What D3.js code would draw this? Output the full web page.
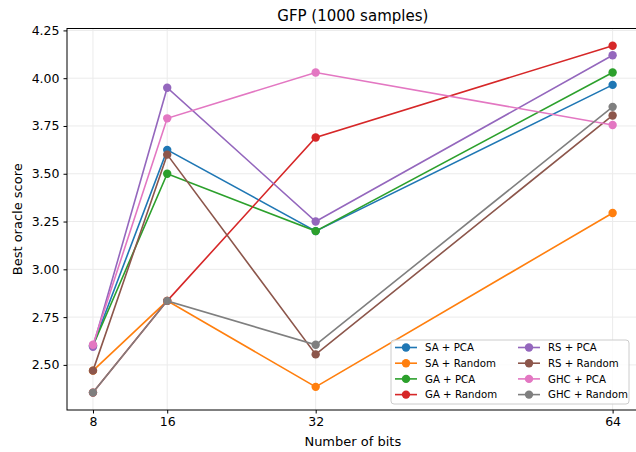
<!DOCTYPE html>
<html>
<head>
<meta charset="utf-8">
<script src="https://cdn.jsdelivr.net/npm/d3@7"></script>
<style>
  body { margin: 0; background: #fff; }
  svg { font-family: "DejaVu Sans", sans-serif; }
</style>
</head>
<body>
<div id="chart"></div>
<script>
const BITS = [8, 16, 32, 64];
const SERIES_NAMES = ["SA + PCA", "SA + Random", "GA + PCA", "GA + Random",
                      "RS + PCA", "RS + Random", "GHC + PCA", "GHC + Random"];
const SA_PCA = [2.60, 3.625, 3.20, 3.965];
const SA_RANDOM = [2.47, 2.835, 2.385, 3.295];
const GA_PCA = [2.60, 3.50, 3.20, 4.03];
const GA_RANDOM = [2.355, 2.835, 3.69, 4.17];
const RS_PCA = [2.595, 3.95, 3.25, 4.12];
const RS_RANDOM = [2.47, 3.60, 2.555, 3.805];
const GHC_PCA = [2.605, 3.79, 4.03, 3.755];
const GHC_RANDOM = [2.355, 2.835, 2.605, 3.85];
const Y_TICKS = [2.50, 2.75, 3.00, 3.25, 3.50, 3.75, 4.00, 4.25];
const COLORS = ["#1f77b4", "#ff7f0e", "#2ca02c", "#d62728",
                "#9467bd", "#8c564b", "#e377c2", "#7f7f7f"];

const ALL = [SA_PCA, SA_RANDOM, GA_PCA, GA_RANDOM, RS_PCA, RS_RANDOM, GHC_PCA, GHC_RANDOM];
const series = SERIES_NAMES.map((name, i) => ({
    name: name,
    color: COLORS[i],
    values: BITS.map((b, j) => [b, ALL[i][j]])
}));

const WIDTH = 636;
const HEIGHT = 452;
const LEFT = 67;
const RIGHT = 638.6;
const TOP = 28.5;
const BOTTOM = 410;

const xScale = d3.scaleLinear().domain([5.2, 66.8]).range([LEFT, RIGHT]);
const yScale = d3.scaleLinear().domain([2.264, 4.26]).range([BOTTOM, TOP]);

const svg = d3.select('#chart').append('svg')
    .attr('width', WIDTH)
    .attr('height', HEIGHT);

// grid
svg.append('g').selectAll('line')
   .data(BITS).enter().append('line')
   .attr('x1', d => xScale(d)).attr('x2', d => xScale(d))
   .attr('y1', TOP).attr('y2', BOTTOM)
   .attr('stroke', '#ebebeb').attr('stroke-width', 1);
svg.append('g').selectAll('line')
   .data(Y_TICKS).enter().append('line')
   .attr('x1', LEFT).attr('x2', RIGHT)
   .attr('y1', d => yScale(d)).attr('y2', d => yScale(d))
   .attr('stroke', '#ebebeb').attr('stroke-width', 1);

// axes
const xAxis = d3.axisBottom(xScale).tickValues(BITS).tickFormat(d3.format('d'))
    .tickSizeInner(3.5).tickSizeOuter(0).tickPadding(4);
const yAxis = d3.axisLeft(yScale).tickValues(Y_TICKS).tickFormat(d3.format('.2f'))
    .tickSizeInner(3.5).tickSizeOuter(0).tickPadding(4);

const gx = svg.append('g')
   .attr('transform', 'translate(0,' + BOTTOM + ')')
   .call(xAxis);
const gy = svg.append('g')
   .attr('transform', 'translate(' + LEFT + ',0)')
   .call(yAxis);
[gx, gy].forEach(g => {
    g.select('.domain').remove();
    g.selectAll('text').attr('font-size', '12.5px').attr('fill', '#000')
     .attr('font-family', '"DejaVu Sans", sans-serif');
    g.selectAll('line').attr('stroke', '#000');
});

// frame
svg.append('rect')
   .attr('x', LEFT).attr('y', TOP)
   .attr('width', RIGHT - LEFT).attr('height', BOTTOM - TOP)
   .attr('fill', 'none').attr('stroke', '#000').attr('stroke-width', 1);

// lines
const line = d3.line().x(d => xScale(d[0])).y(d => yScale(d[1]));
series.forEach(s => {
    const g = svg.append('g');
    g.append('path')
     .datum(s.values)
     .attr('d', line)
     .attr('fill', 'none')
     .attr('stroke', s.color)
     .attr('stroke-width', 1.6);
    g.selectAll('circle')
     .data(s.values).enter().append('circle')
     .attr('cx', d => xScale(d[0]))
     .attr('cy', d => yScale(d[1]))
     .attr('r', 4.2)
     .attr('fill', s.color);
});

// title and labels
svg.append('text')
   .attr('x', (LEFT + RIGHT) / 2).attr('y', 21)
   .attr('text-anchor', 'middle')
   .attr('font-size', '15px')
   .text('GFP (1000 samples)');
svg.append('text')
   .attr('x', (LEFT + RIGHT) / 2).attr('y', 446)
   .attr('text-anchor', 'middle')
   .attr('font-size', '13px')
   .text('Number of bits');
svg.append('text')
   .attr('transform', 'translate(22,' + (TOP + BOTTOM) / 2 + ') rotate(-90)')
   .attr('text-anchor', 'middle')
   .attr('font-size', '13px')
   .text('Best oracle score');

// legend
const legend = svg.append('g').attr('transform', 'translate(391,340)');
legend.append('rect')
   .attr('width', 238).attr('height', 64)
   .attr('rx', 3).attr('ry', 3)
   .attr('fill', 'rgba(255,255,255,0.8)')
   .attr('stroke', '#cccccc').attr('stroke-width', 1);
series.forEach((s, i) => {
    const col = Math.floor(i / 4);
    const row = i % 4;
    const item = legend.append('g')
        .attr('transform', 'translate(' + (4 + col * 123) + ',' + (7.5 + row * 15.7) + ')');
    item.append('line')
        .attr('x1', 0).attr('x2', 22)
        .attr('stroke', s.color).attr('stroke-width', 1.6);
    item.append('circle')
        .attr('cx', 11).attr('r', 4.2).attr('fill', s.color);
    item.append('text')
        .attr('x', 30).attr('y', 3.6)
        .attr('font-size', '10.2px')
        .text(s.name);
});
</script>
</body>
</html>
